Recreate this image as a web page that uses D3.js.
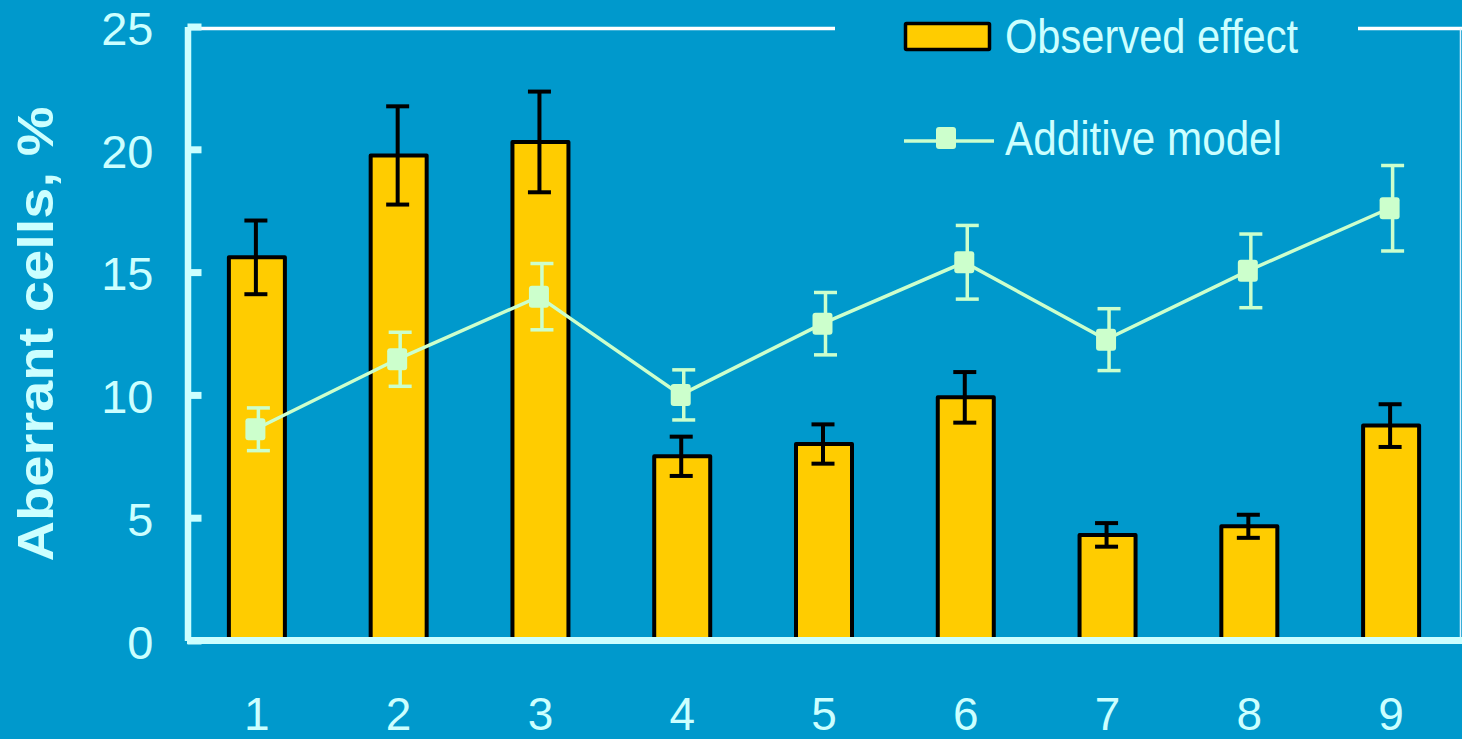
<!DOCTYPE html>
<html>
<head>
<meta charset="utf-8">
<script src="https://cdn.jsdelivr.net/npm/d3@7"></script>
<style>
  html, body { margin: 0; padding: 0; background: #0099CC; }
  svg { display: block; }
  text { font-family: "Liberation Sans", Arial, sans-serif; }
</style>
</head>
<body>
<svg id="chart" width="1462" height="739"></svg>
<script>
// Experimental groups
const groups = ["1", "2", "3", "4", "5", "6", "7", "8", "9"];

// Observed effect (bars) and its error
const observed = [15.6, 19.75, 20.3, 7.5, 8.0, 9.9, 4.3, 4.65, 8.75];
const observedErr = [1.5, 2.0, 2.05, 0.8, 0.8, 1.03, 0.48, 0.47, 0.87];

// Additive model prediction (line) and its error
const additive = [8.6, 11.45, 14.0, 10.0, 12.9, 15.4, 12.25, 15.05, 17.6];
const additiveErr = [0.87, 1.1, 1.35, 1.02, 1.27, 1.5, 1.26, 1.5, 1.74];

// Axis ticks
const yTicks = [0, 5, 10, 15, 20, 25];

const legendLabels = ["Observed effect", "Additive model"];
const yTitle = "Aberrant cells, %";

const BG = "#0099CC";
const AXIS = "#CCFFFF";
const BAR = "#FFCC00";
const LINE = "#CCFFCC";

const svg = d3.select("#chart");

const x = d3.scaleBand()
  .domain(groups)
  .range([186, 1462])
  .paddingInner(0.605)
  .paddingOuter(0.3025);

const y = d3.scaleLinear().domain([0, 25]).range([640.5, 26.5]);

const cx = d => x(d) + x.bandwidth() / 2;

// Top and right frame lines
svg.append("line")
  .attr("x1", 188).attr("x2", 1462)
  .attr("y1", 28.5).attr("y2", 28.5)
  .attr("stroke", "#FFFFFF").attr("stroke-width", 3.5);
svg.append("line")
  .attr("x1", 1460.5).attr("x2", 1460.5)
  .attr("y1", 28.5).attr("y2", 640)
  .attr("stroke", "#DDF4FF").attr("stroke-width", 1.5);

// Bars
svg.append("g").selectAll("rect")
  .data(groups)
  .join("rect")
  .attr("x", d => x(d))
  .attr("width", x.bandwidth())
  .attr("y", (d, i) => y(observed[i]))
  .attr("height", (d, i) => y(0) - y(observed[i]))
  .attr("fill", BAR)
  .attr("stroke", "#000")
  .attr("stroke-width", 4)
  .attr("stroke-linejoin", "round");

// Error bars: vertical whisker plus two caps
function errorBars(g, values, errs, color, dx, capW, sw) {
  const eb = g.selectAll("g")
    .data(groups)
    .join("g")
    .attr("stroke", color)
    .attr("stroke-width", sw);
  eb.append("line")
    .attr("x1", d => cx(d) + dx).attr("x2", d => cx(d) + dx)
    .attr("y1", (d, i) => y(values[i] + errs[i]))
    .attr("y2", (d, i) => y(values[i] - errs[i]));
  eb.append("line")
    .attr("x1", d => cx(d) + dx - capW / 2).attr("x2", d => cx(d) + dx + capW / 2)
    .attr("y1", (d, i) => y(values[i] + errs[i]))
    .attr("y2", (d, i) => y(values[i] + errs[i]));
  eb.append("line")
    .attr("x1", d => cx(d) + dx - capW / 2).attr("x2", d => cx(d) + dx + capW / 2)
    .attr("y1", (d, i) => y(values[i] - errs[i]))
    .attr("y2", (d, i) => y(values[i] - errs[i]));
}

svg.append("g").call(errorBars, observed, observedErr, "#000", -1, 23, 4);

// Additive model line
const line = d3.line()
  .x(d => cx(d) - 1.5)
  .y((d, i) => y(additive[i]));

svg.append("path")
  .datum(groups)
  .attr("d", line)
  .attr("fill", "none")
  .attr("stroke", LINE)
  .attr("stroke-width", 3.5);

svg.append("g").call(errorBars, additive, additiveErr, LINE, 1.5, 23, 3.5);

// Square markers
const mw = 20, mh = 22;
svg.append("g").selectAll("rect")
  .data(groups)
  .join("rect")
  .attr("x", d => cx(d) - 1.5 - mw / 2)
  .attr("y", (d, i) => y(additive[i]) - mh / 2)
  .attr("width", mw).attr("height", mh)
  .attr("rx", 3).attr("ry", 3)
  .attr("fill", LINE);

// Y axis: ticks point inward, labels on the left
const yAxis = d3.axisLeft(y)
  .tickValues(yTicks)
  .tickSizeInner(-14)
  .tickSizeOuter(0)
  .tickPadding(34)
  .tickFormat(d3.format("d"));

const gy = svg.append("g")
  .attr("transform", "translate(187.5,0)")
  .call(yAxis);
gy.select(".domain").attr("stroke", AXIS).attr("stroke-width", 6.5);
gy.selectAll(".tick line").attr("stroke", AXIS).attr("stroke-width", 7);
gy.selectAll(".tick text")
  .attr("fill", AXIS)
  .attr("font-size", 47)
  .attr("dy", "0.38em");

// X axis
const xAxis = d3.axisBottom(x).tickSize(0).tickPadding(57);
const gx = svg.append("g")
  .attr("transform", `translate(0,${y(0)})`)
  .call(xAxis);
gx.select(".domain").remove();
gx.append("line")
  .attr("x1", 187).attr("x2", 1462)
  .attr("y1", 0).attr("y2", 0)
  .attr("stroke", AXIS).attr("stroke-width", 7);
gx.selectAll(".tick text")
  .attr("fill", AXIS)
  .attr("font-size", 46);

// Y axis title
svg.append("text")
  .attr("transform", "translate(53,334) rotate(-90)")
  .attr("text-anchor", "middle")
  .attr("font-size", 50)
  .attr("font-weight", "bold")
  .attr("fill", AXIS)
  .attr("textLength", 455)
  .attr("lengthAdjust", "spacingAndGlyphs")
  .text(yTitle);

// Legend
const lg = svg.append("g");
lg.append("rect")
  .attr("x", 835).attr("y", 0)
  .attr("width", 523).attr("height", 175)
  .attr("fill", BG);
lg.append("rect")
  .attr("x", 905.5).attr("y", 23.5)
  .attr("width", 84).attr("height", 26)
  .attr("fill", BAR)
  .attr("stroke", "#000").attr("stroke-width", 3.5)
  .attr("rx", 1);
lg.append("text")
  .attr("x", 1005).attr("y", 53)
  .attr("font-size", 48)
  .attr("fill", AXIS)
  .attr("textLength", 293)
  .attr("lengthAdjust", "spacingAndGlyphs")
  .text(legendLabels[0]);
lg.append("line")
  .attr("x1", 904).attr("x2", 994)
  .attr("y1", 141).attr("y2", 141)
  .attr("stroke", LINE).attr("stroke-width", 3.5);
lg.append("rect")
  .attr("x", 936).attr("y", 127)
  .attr("width", mw).attr("height", mh)
  .attr("rx", 3).attr("ry", 3)
  .attr("fill", LINE);
lg.append("text")
  .attr("x", 1005).attr("y", 155)
  .attr("font-size", 48)
  .attr("fill", AXIS)
  .attr("textLength", 277)
  .attr("lengthAdjust", "spacingAndGlyphs")
  .text(legendLabels[1]);
</script>
</body>
</html>
